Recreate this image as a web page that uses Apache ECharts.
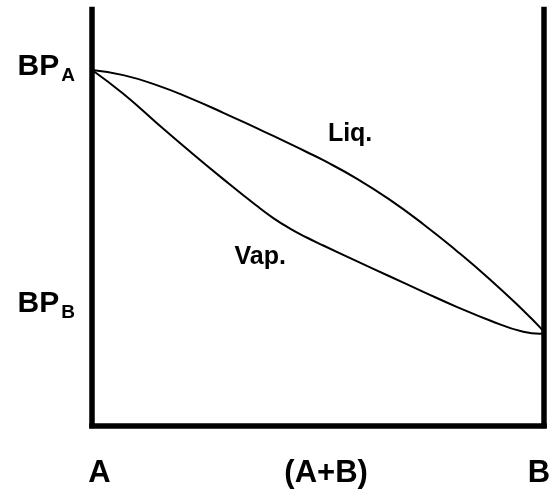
<!DOCTYPE html>
<html>
<head>
<meta charset="utf-8">
<script src="https://cdn.jsdelivr.net/npm/echarts@6/dist/echarts.min.js"></script>
<style>
  html, body { margin: 0; padding: 0; background: #fff; }
  #chart { width: 550px; height: 490px; }
</style>
</head>
<body>
<div id="chart"></div>
<script>
// composition (% of B)
const compX = [0, 6.92, 14.31, 21.68, 29.05, 36.44, 40.11, 43.81, 47.5, 51.17, 58.56, 65.93, 73.3, 80.69, 88.05, 95.42, 99.12, 100];
// temperature of the liquid (upper) and vapour (lower) curves at compX
const liqT = [85.46, 84.23, 81.83, 78.7, 75.17, 71.47, 69.6, 67.69, 65.75, 63.77, 59.35, 54.23, 48.39, 41.97, 35.1, 27.64, 23.6, 22.36];
const vapT = [85.46, 79.74, 72.74, 65.87, 59.23, 52.81, 49.86, 47.33, 45.19, 43.27, 39.5, 35.82, 32.14, 28.53, 25.24, 22.52, 22.04, 22.36];

// tick labels
const xTickVals = [1.66, 51.8, 98.9];
const xTickNames = ['A', '(A+B)', 'B'];
const yTickVals = [85.3, 28.4];
const yTickNames = ['A', 'B'];

// curve names and where they sit
const liqLabel = { name: 'Liq.', at: [57.1, 70.1] };
const vapLabel = { name: 'Vap.', at: [37.2, 40.5] };

const font = "'Liberation Sans', Arial, sans-serif";
const axisLineStyle = { color: '#000', width: 5.5, cap: 'square' };

function pairs(xs, ys) {
  return xs.map((x, i) => [x, ys[i]]);
}

function curveLabel(l) {
  return {
    symbolSize: 0,
    data: [{ coord: l.at }],
    label: {
      show: true, position: 'inside', formatter: l.name,
      color: '#000', fontFamily: font, fontWeight: 'bold', fontSize: 25
    }
  };
}

const chart = echarts.init(document.getElementById('chart'));
chart.setOption({
  animation: false,
  backgroundColor: '#fff',
  grid: { left: 92, right: 6, top: 9.5, bottom: 64.5, outerBoundsMode: 'none' },
  xAxis: {
    type: 'value', min: 0, max: 100,
    axisLine: { show: true, lineStyle: axisLineStyle },
    axisTick: { show: false },
    splitLine: { show: false },
    axisLabel: {
      customValues: xTickVals,
      margin: 32,
      color: '#000', fontFamily: font, fontWeight: 'bold', fontSize: 31,
      formatter: v => xTickNames[xTickVals.indexOf(v)]
    }
  },
  yAxis: [{
    type: 'value', min: 0, max: 100,
    axisLine: { show: true, lineStyle: axisLineStyle },
    axisTick: { show: false },
    splitLine: { show: false },
    axisLabel: {
      customValues: yTickVals,
      margin: 17,
      formatter: v => '{bp|BP}{sub|' + yTickNames[yTickVals.indexOf(v)] + '}',
      rich: {
        bp: {
          color: '#000', fontFamily: font, fontWeight: 'bold', fontSize: 30,
          lineHeight: 30, verticalAlign: 'bottom', padding: [0, 0, 4, 0]
        },
        sub: {
          color: '#000', fontFamily: font, fontWeight: 'bold', fontSize: 19,
          lineHeight: 19, verticalAlign: 'bottom', padding: [0, 0, 0, 2]
        }
      }
    }
  }, {
    type: 'value', min: 0, max: 100, position: 'right',
    axisLine: { show: true, lineStyle: axisLineStyle },
    axisTick: { show: false },
    axisLabel: { show: false },
    splitLine: { show: false }
  }],
  series: [{
    name: 'Liq.', type: 'line', smooth: 0.5, showSymbol: false,
    lineStyle: { color: '#000', width: 2 },
    data: pairs(compX, liqT),
    markPoint: curveLabel(liqLabel)
  }, {
    name: 'Vap.', type: 'line', smooth: 0.5, showSymbol: false,
    lineStyle: { color: '#000', width: 2 },
    data: pairs(compX, vapT),
    markPoint: curveLabel(vapLabel)
  }]
});
</script>
</body>
</html>
